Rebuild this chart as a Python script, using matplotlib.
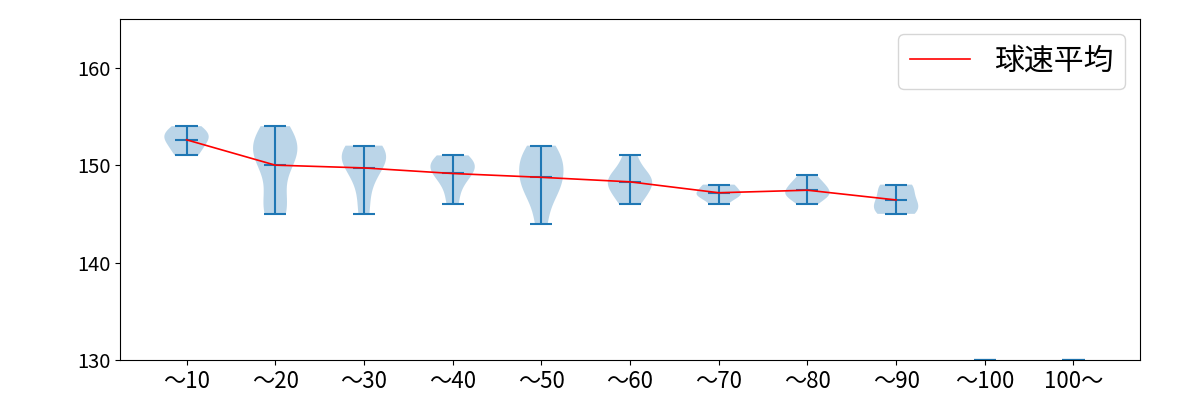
import matplotlib
matplotlib.use("Agg")
import matplotlib.pyplot as plt
import numpy as np

plt.rcParams['font.family'] = ['Noto Sans CJK JP', 'DejaVu Sans']

labels = ['～10', '～20', '～30', '～40', '～50', '～60', '～70', '～80', '～90', '～100', '100～']

# speeds per pitch-count bin
s10 = [151, 152, 153, 153, 154]
s20 = [145, 146, 146, 150, 151, 151, 152, 152, 153, 154]
s30 = [145, 148, 150, 151, 151, 152, 151]
s40 = [146, 148, 149, 150, 150, 151, 150]
s50 = [144, 147, 148, 150, 150, 151, 152, 148]
s60 = [146, 147, 148, 148, 149, 149, 151]
s70 = [146, 147, 147, 148, 147, 148]
s80 = [146, 147, 147, 148, 149, 147, 148]
s90 = [145, 145, 146, 146, 147, 148, 148]
# empty bins, drawn at the floor
s100 = [129.95, 130.0]
s100p = [129.95, 130.0]

data = [s10, s20, s30, s40, s50, s60, s70, s80, s90, s100, s100p]
means = [np.mean(d) for d in data[:9]]

fig, ax = plt.subplots(figsize=(12, 4), dpi=100)
pos = np.arange(1, len(data) + 1)
ax.violinplot(data, positions=pos, showmeans=True)
ax.plot(pos[:9], means, color='red', lw=1.2, label='球速平均')

ax.set_xticks(pos)
ax.set_xticklabels(labels, fontsize=16)
ax.tick_params(axis='y', labelsize=14.5)
ax.set_ylim(130, 165)
ax.set_yticks([130, 140, 150, 160])
ax.set_xlim(0.25, 11.75)
ax.legend(loc='upper right', fontsize=21.5)

plt.subplots_adjust(left=0.1, right=0.95, top=0.9525, bottom=0.1)
plt.savefig('out.png')
